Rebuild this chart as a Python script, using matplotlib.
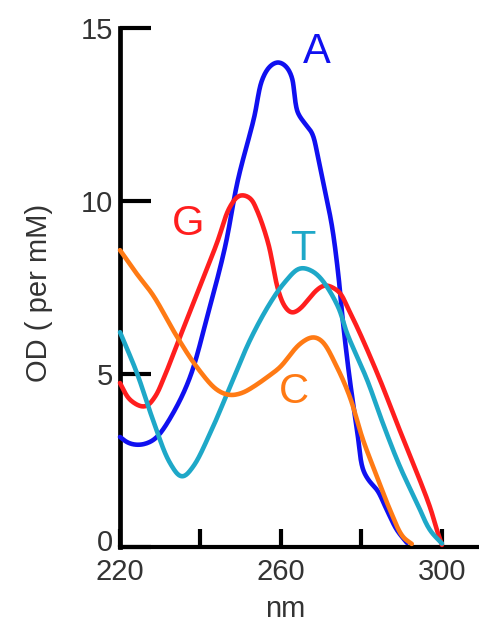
import numpy as np
import matplotlib
matplotlib.use("Agg")
import matplotlib.pyplot as plt
import matplotlib.transforms as mtransforms

plt.rcParams['font.family'] = ['Liberation Sans', 'DejaVu Sans']

# ---- data (wavelength nm, OD per mM) ----
A_nm = [220.0, 222.0, 224.5, 227.0, 229.2, 233.2, 237.4, 241.9, 246.1, 249.3, 253.3, 255.3,
        257.3, 259.3, 261.2, 262.7, 263.5, 264.2, 266.0, 267.7, 269.2, 270.9, 272.7, 274.2,
        275.4, 277.1, 278.9, 280.4, 282.1, 283.9, 286.3, 288.8, 291.3]
A_od = [3.18, 3.01, 2.95, 3.01, 3.18, 3.87, 4.91, 6.76, 8.67, 10.61, 12.40, 13.50,
        13.90, 14.02, 13.90, 13.58, 12.92, 12.54, 12.23, 11.97, 11.27, 10.32, 9.25, 7.92,
        6.50, 4.83, 3.38, 2.23, 1.88, 1.65, 1.07, 0.49, 0.12]

G_nm = [220.0, 222.5, 226.2, 228.7, 230.7, 234.9, 239.9, 244.1, 247.3, 249.8, 252.3, 254.0,
        256.8, 259.3, 261.0, 262.7, 264.7, 266.7, 268.9, 270.9, 272.7, 274.7, 276.6, 279.6,
        284.6, 288.8, 292.8, 297.0, 298.8, 300.0]
G_od = [4.74, 4.25, 4.05, 4.34, 4.83, 6.07, 7.54, 8.79, 9.83, 10.17, 10.09, 9.74,
        8.79, 7.43, 6.94, 6.76, 6.88, 7.14, 7.43, 7.57, 7.51, 7.34, 6.91, 6.18,
        4.83, 3.58, 2.43, 1.16, 0.47, 0.06]

T_nm = [220.0, 224.2, 228.2, 232.4, 235.4, 238.1, 242.4, 247.3, 252.3, 257.3, 261.0, 264.7,
        267.7, 270.2, 274.2, 276.4, 281.4, 285.3, 289.6, 293.8, 297.0, 300.0]
T_od = [6.21, 5.03, 3.67, 2.43, 2.02, 2.31, 3.29, 4.62, 5.98, 7.05, 7.66, 8.06,
        7.98, 7.72, 6.94, 6.18, 4.83, 3.58, 2.31, 1.27, 0.49, 0.10]

C_nm = [220.0, 224.2, 228.2, 234.2, 239.1, 244.1, 247.3, 250.3, 253.0, 257.3, 259.8, 264.7,
        268.0, 270.2, 273.9, 277.1, 280.4, 283.9, 287.1, 290.3, 292.5]
C_od = [8.58, 7.89, 7.28, 6.07, 5.20, 4.54, 4.39, 4.45, 4.62, 4.97, 5.20, 5.87,
        6.07, 5.95, 5.20, 4.34, 3.09, 2.02, 1.07, 0.29, 0.09]

series_names = ['A', 'G', 'T', 'C']
series_colors = ['#1010f0', '#ff1e1e', '#1ea8c8', '#ff7a14']

x_ticks = [220, 240, 260, 280, 300]
x_ticklabels = ['220', '', '260', '', '300']
y_ticks = [0, 5, 10, 15]
y_ticklabels = ['0', '5', '10', '15']


def smooth(xs, ys, sx=4.0, sy=34.6, n=24, alpha=0.5, sigma=3.0):
    """Centripetal Catmull-Rom through the points, then a light gaussian smoothing
    along the arc (in approximate pixel units) to iron out reading jitter."""
    P = np.column_stack([np.asarray(xs) * sx, np.asarray(ys) * sy])
    P = np.vstack([2 * P[0] - P[1], P, 2 * P[-1] - P[-2]])
    out = []
    for i in range(1, len(P) - 2):
        p0, p1, p2, p3 = P[i - 1], P[i], P[i + 1], P[i + 2]
        t0 = 0.0
        t1 = t0 + max(np.linalg.norm(p1 - p0), 1e-6) ** alpha
        t2 = t1 + max(np.linalg.norm(p2 - p1), 1e-6) ** alpha
        t3 = t2 + max(np.linalg.norm(p3 - p2), 1e-6) ** alpha
        t = np.linspace(t1, t2, n)[:, None]
        A1 = (t1 - t) / (t1 - t0) * p0 + (t - t0) / (t1 - t0) * p1
        A2 = (t2 - t) / (t2 - t1) * p1 + (t - t1) / (t2 - t1) * p2
        A3 = (t3 - t) / (t3 - t2) * p2 + (t - t2) / (t3 - t2) * p3
        B1 = (t2 - t) / (t2 - t0) * A1 + (t - t0) / (t2 - t0) * A2
        B2 = (t3 - t) / (t3 - t1) * A2 + (t - t1) / (t3 - t1) * A3
        C = (t2 - t) / (t2 - t1) * B1 + (t - t1) / (t2 - t1) * B2
        out.append(C if i == len(P) - 3 else C[:-1])
    C = np.vstack(out)
    # resample by arc length (1 unit ~ 1 px)
    seg = np.hypot(np.diff(C[:, 0]), np.diff(C[:, 1]))
    s = np.concatenate([[0], np.cumsum(seg)])
    su = np.arange(0, s[-1], 1.0)
    su = np.append(su, s[-1])
    X = np.interp(su, s, C[:, 0])
    Y = np.interp(su, s, C[:, 1])
    # gaussian smoothing with linear-extrapolated padding (keeps end points)
    k = int(4 * sigma)
    g = np.exp(-0.5 * (np.arange(-k, k + 1) / sigma) ** 2)
    g /= g.sum()

    def sm(v):
        left = 2 * v[0] - v[1:k + 1][::-1]
        right = 2 * v[-1] - v[-k - 1:-1][::-1]
        return np.convolve(np.concatenate([left, v, right]), g, mode='valid')

    return sm(X) / sx, sm(Y) / sy


W, H = 479, 622
fig = plt.figure(figsize=(W / 100, H / 100), dpi=100)
ax = fig.add_axes([120 / W, 1 - 547 / H, 359 / W, 519 / H])
ax.set_xlim(220, 309.2)
ax.set_ylim(0, 15)

data = [(A_nm, A_od), (G_nm, G_od), (T_nm, T_od), (C_nm, C_od)]
for (xs, ys), col in zip(data, series_colors):
    sx_, sy_ = smooth(xs, ys)
    ax.plot(sx_, sy_, color=col, lw=3.3, solid_capstyle='round', solid_joinstyle='round',
            clip_on=False, zorder=3)

# letter labels
label_pos = {'A': (269.0, 13.99), 'G': (236.9, 9.02), 'T': (265.5, 8.30), 'C': (263.2, 4.16)}
for name, col in zip(series_names, series_colors):
    x, y = label_pos[name]
    ax.text(x, y, name, color=col, fontsize=30, ha='center', va='baseline', zorder=4)

for s in ['top', 'right']:
    ax.spines[s].set_visible(False)
ax.spines['left'].set_linewidth(3.4)
ax.spines['bottom'].set_linewidth(3.0)
ax.spines['left'].set_capstyle('projecting')

ax.set_xticks(x_ticks)
ax.set_xticklabels(x_ticklabels)
ax.set_yticks(y_ticks)
ax.set_yticklabels(y_ticklabels)
ax.tick_params(axis='x', direction='in', length=13, width=3.0, pad=8,
               labelsize=21, labelcolor='#333333')
ax.tick_params(axis='y', direction='in', length=22, width=3.0, pad=5,
               labelsize=21, labelcolor='#333333')

# nudge the "0" label up a little so it clears the "220" label
zero_lbl = ax.yaxis.get_major_ticks()[0].label1
zero_lbl.set_transform(zero_lbl.get_transform() +
                       mtransforms.ScaledTranslation(0, 5 / 72, fig.dpi_scale_trans))

fig.text(285 / W, 1 - 617 / H, 'nm', fontsize=21, color='#333333', ha='center', va='baseline')
fig.text(39 / W, 1 - 293 / H, 'OD ( per mM)', fontsize=21, color='#333333',
         rotation=90, ha='center', va='center')

fig.savefig('out.png', dpi=100)
